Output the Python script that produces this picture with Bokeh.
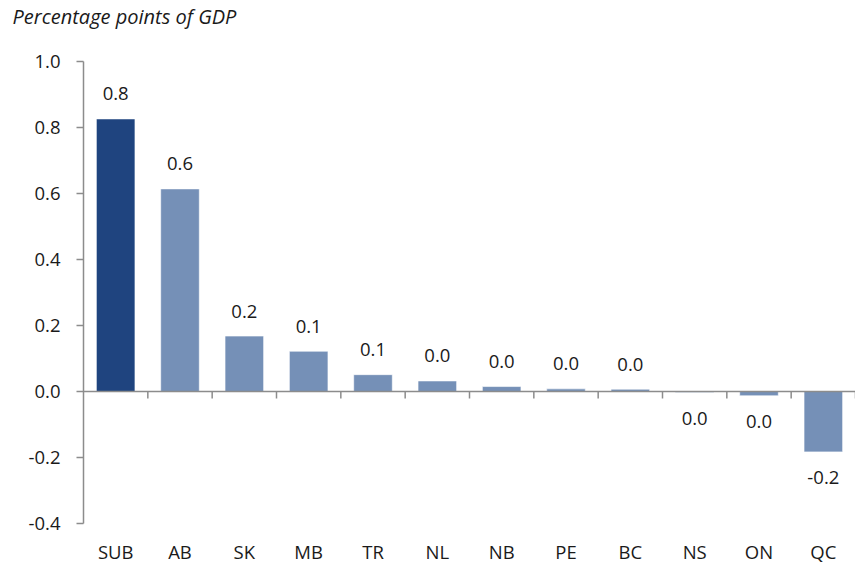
import numpy as np
from bokeh.plotting import figure
from bokeh.models import Range1d, LinearAxis, FixedTicker, Span, NumeralTickFormatter, Title
from bokeh.embed import file_html
from bokeh.resources import INLINE
from bokeh.core.properties import value

categories = ["SUB", "AB", "SK", "MB", "TR", "NL", "NB", "PE", "BC", "NS", "ON", "QC"]
values = [0.826, 0.614, 0.168, 0.122, 0.051, 0.032, 0.015, 0.008, 0.007, -0.003, -0.013, -0.183]
y_ticks = [-0.4, -0.2, 0.0, 0.2, 0.4, 0.6, 0.8, 1.0]
title_text = "Percentage points of GDP"

DARK = "#1F447F"
LIGHT = "#7590B7"
AXIS = "#8C8C8C"
FONT = "Open Sans"
FS = "18.5px"

n = len(categories)
centers = [i + 0.5 for i in range(n)]
colors = [DARK] + [LIGHT] * (n - 1)
labels = [f"{v:.1f}".replace("-0.0", "0.0") for v in values]

p = figure(width=855, height=567, output_backend="svg", toolbar_location=None,
           x_range=Range1d(0, n), y_range=Range1d(-0.4, 1.0),
           min_border_left=83, min_border_right=0, min_border_top=61, min_border_bottom=44,
           x_axis_location=None)
p.outline_line_color = None
p.grid.visible = False

# spacer title (closest to the frame), then the real title above it
spacer = Title(text=" ", text_font=FONT, text_font_size="20px", standoff=1)
p.add_layout(spacer, "above")
head = Title(text=title_text, text_font=FONT, text_font_style="italic", text_font_size="20px",
             text_color="#1a1a1a", align="left", vertical_align="top", offset=-71, standoff=0)
p.add_layout(head, "above")

# y axis
ya = p.yaxis[0]
ya.ticker = FixedTicker(ticks=y_ticks)
ya.formatter = NumeralTickFormatter(format="0.0")
ya.axis_line_color = AXIS
ya.axis_line_width = 1.5
ya.major_tick_line_color = AXIS
ya.major_tick_line_width = 1.5
ya.major_tick_out = 7
ya.major_tick_in = 0
ya.minor_tick_line_color = None
ya.major_label_standoff = 16
ya.major_label_text_font = FONT
ya.major_label_text_font_size = FS
ya.major_label_text_color = "#1a1a1a"

# bottom category labels
xa = LinearAxis(ticker=FixedTicker(ticks=centers),
                major_label_overrides={c: lab for c, lab in zip(centers, categories)})
xa.axis_line_color = None
xa.major_tick_line_color = None
xa.minor_tick_line_color = None
xa.major_tick_out = 0
xa.major_tick_in = 0
xa.major_label_standoff = 15
xa.major_label_text_font = FONT
xa.major_label_text_font_size = FS
xa.major_label_text_color = "#1a1a1a"
p.add_layout(xa, "below")

p.vbar(x=centers, top=values, bottom=0, width=0.6, fill_color=colors,
       line_color="white", line_width=0.6)

# zero line with category-boundary ticks
p.add_layout(Span(location=0, dimension="width", line_color=AXIS, line_width=1.5))
p.ray(x=list(range(1, n + 1)), y=[0] * n, length=7, length_units="screen",
      angle=-np.pi / 2, line_color=AXIS, line_width=1.5)

pos = [(c, v, l) for c, v, l in zip(centers, values, labels) if v >= 0]
neg = [(c, v, l) for c, v, l in zip(centers, values, labels) if v < 0]
p.text(x=[a[0] for a in pos], y=[a[1] for a in pos], text=[a[2] for a in pos],
       text_align="center", text_baseline="alphabetic", y_offset=-25,
       text_font=value(FONT), text_font_size=FS, text_color="#1a1a1a")
p.text(x=[a[0] for a in neg], y=[a[1] for a in neg], text=[a[2] for a in neg],
       text_align="center", text_baseline="alphabetic", y_offset=26,
       text_font=value(FONT), text_font_size=FS, text_color="#1a1a1a")

open("out.html", "w").write(file_html(p, INLINE))
